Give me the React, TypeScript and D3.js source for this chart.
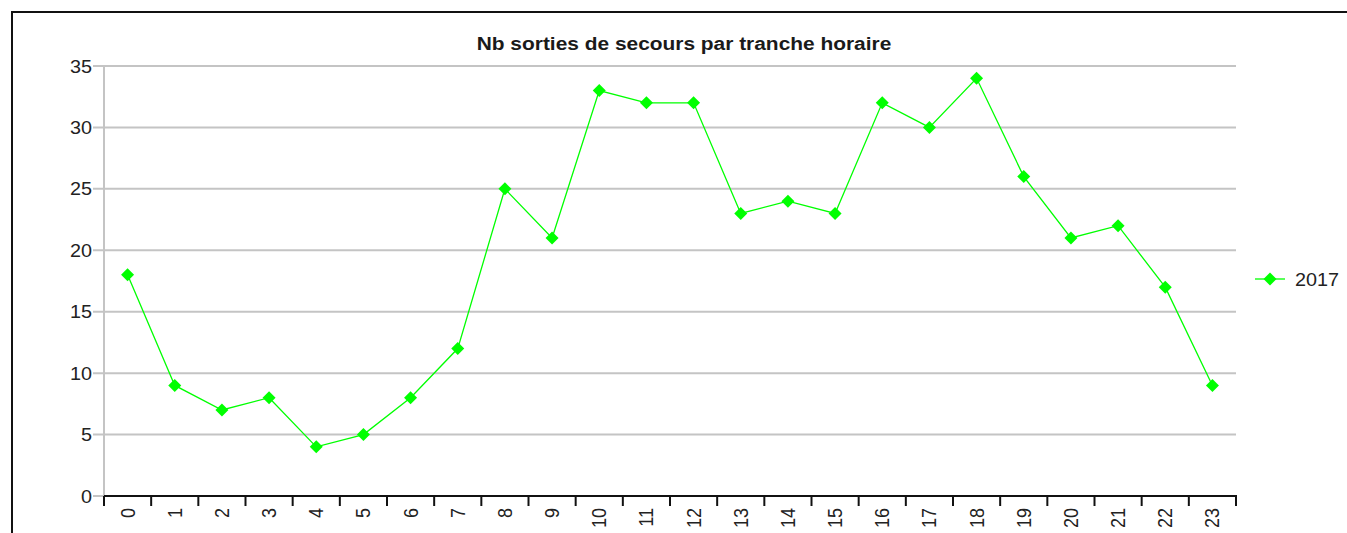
import { useMemo } from "react";
import * as d3 from "d3";

const width = 1347;
const height = 533;

const hours = [
  "0", "1", "2", "3", "4", "5", "6", "7", "8", "9", "10", "11",
  "12", "13", "14", "15", "16", "17", "18", "19", "20", "21", "22", "23",
];
const sorties2017 = [
  18, 9, 7, 8, 4, 5, 8, 12, 25, 21, 33, 32, 32, 23, 24, 23, 32, 30, 34, 26, 21, 22, 17, 9,
];
const yTicks = [0, 5, 10, 15, 20, 25, 30, 35];

const margin = { top: 66, right: 111, bottom: 37, left: 104 };
const font = "'Liberation Sans', Arial, sans-serif";
const green = "#00ff00";
const stretch = "scale(1.1,1)"; // the source picture is slightly wider than tall

const diamond = (x: number, y: number, r: number) =>
  `M${x},${y - r}L${x + r},${y}L${x},${y + r}L${x - r},${y}Z`;

export default function App() {
  const x = useMemo(
    () =>
      d3
        .scaleBand<string>()
        .domain(hours)
        .range([margin.left, width - margin.right]),
    []
  );
  const y = useMemo(
    () =>
      d3
        .scaleLinear()
        .domain([0, 35])
        .range([height - margin.bottom, margin.top]),
    []
  );

  const line = d3
    .line<number>()
    .x((_, i) => x(hours[i])! + x.bandwidth() / 2)
    .y((d) => y(d));

  const x0 = margin.left;
  const x1 = width - margin.right;
  const yBase = y(0);

  return (
    <svg
      width={width}
      height={height}
      style={{ position: "absolute", left: 0, top: 0, background: "white", fontFamily: font }}
    >
      {/* frame */}
      <path d={`M12,${height + 5}V12H${width + 5}`} fill="none" stroke="#111" strokeWidth={2} />

      <text
        transform={`translate(684,50) ${stretch}`}
        textAnchor="middle"
        fontSize={19}
        fontWeight="bold"
        fill="#1a1a1a"
      >
        Nb sorties de secours par tranche horaire
      </text>

      {/* grid + y labels */}
      {yTicks.map((t) => (
        <g key={t}>
          {t > 0 && (
            <line x1={x0 - 11} x2={x1} y1={y(t)} y2={y(t)} stroke="#c4c4c4" strokeWidth={2} />
          )}
          <text
            transform={`translate(${x0 - 12},${y(t) + 6.5}) ${stretch}`}
            textAnchor="end"
            fontSize={18}
            fill="#222"
          >
            {t}
          </text>
        </g>
      ))}
      <line x1={x0} x2={x0} y1={y(35) - 1} y2={yBase} stroke="#c4c4c4" strokeWidth={2} />
      <line x1={x0 - 11} x2={x0} y1={yBase} y2={yBase} stroke="#c4c4c4" strokeWidth={2} />

      {/* x axis */}
      <line x1={x0} x2={x1 + 1} y1={yBase} y2={yBase} stroke="#111" strokeWidth={2} />
      {[...hours.map((h) => x(h)!), x1].map((px, i) => (
        <line key={i} x1={px} x2={px} y1={yBase} y2={yBase + 10} stroke="#111" strokeWidth={2} />
      ))}
      {hours.map((h) => {
        const cx = x(h)! + x.bandwidth() / 2;
        return (
          <text
            key={h}
            transform={`translate(${cx + 7},${yBase + 12}) ${stretch} rotate(-90)`}
            textAnchor="end"
            fontSize={18}
            fill="#222"
          >
            {h}
          </text>
        );
      })}

      {/* series */}
      <path d={line(sorties2017) ?? ""} fill="none" stroke={green} strokeWidth={1.3} />
      {sorties2017.map((v, i) => (
        <path key={i} d={diamond(x(hours[i])! + x.bandwidth() / 2, y(v), 6.5)} fill={green} />
      ))}

      {/* legend */}
      <g>
        <line x1={1255} x2={1285} y1={279} y2={279} stroke={green} strokeWidth={1.3} />
        <path d={diamond(1270, 279, 6.5)} fill={green} />
        <text transform={`translate(1295,285.5) ${stretch}`} fontSize={18} fill="#222">
          2017
        </text>
      </g>
    </svg>
  );
}
